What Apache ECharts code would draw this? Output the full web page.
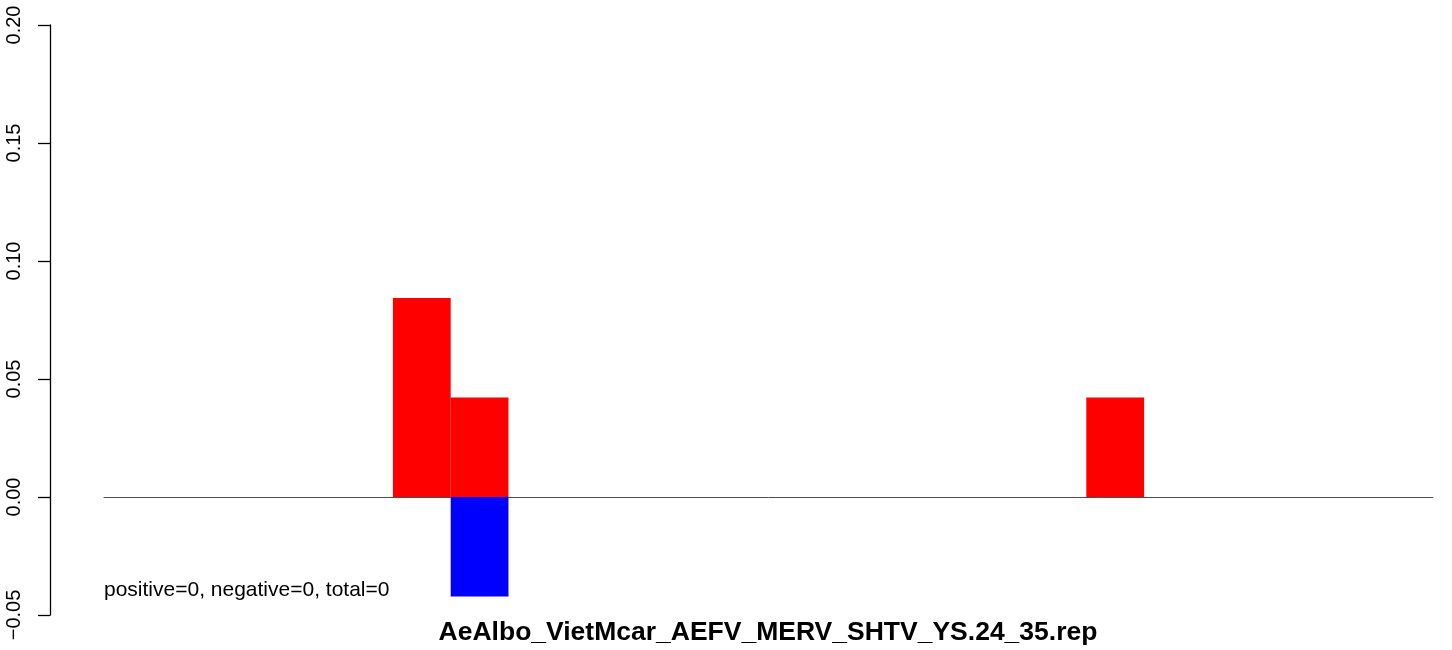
<!DOCTYPE html>
<html><head><meta charset="utf-8">
<script src="https://cdn.jsdelivr.net/npm/echarts@6/dist/echarts.min.js"></script>
<style>html,body{margin:0;padding:0;background:#fff}#c{width:1452px;height:650px}</style>
</head><body><div id="c"></div>
<script>
const categories = ['1','2','3','4','5','6','7','8','9','10','11','12','13','14','15','16','17','18','19','20','21','22','23'];
const positiveValues = [0,0,0,0,0,0.0843,0.0422,0,0,0,0,0,0,0,0,0,0,0.0422,0,0,0,0,0];
const negativeValues = [0,0,0,0,0,0,-0.0422,0,0,0,0,0,0,0,0,0,0,0,0,0,0,0,0];
const yTicks = [-0.05, 0, 0.05, 0.10, 0.15, 0.20];
const titleText = 'AeAlbo_VietMcar_AEFV_MERV_SHTV_YS.24_35.rep';
const noteText = 'positive=0, negative=0, total=0';

const chart = echarts.init(document.getElementById('c'), null, {renderer:'canvas'});
chart.setOption({
  animation:false,
  backgroundColor:'#fff',
  grid:{left:104, right:19, top:25, bottom:35, containLabel:false},
  xAxis:{type:'category', data:categories, boundaryGap:true,
    axisLine:{show:true, onZero:true, lineStyle:{color:'#4d4d4d', width:1}},
    axisTick:{show:false}, axisLabel:{show:false}, splitLine:{show:false}},
  yAxis:{type:'value', min:yTicks[0], max:yTicks[yTicks.length-1], interval:0.05, offset:54,
    axisLine:{show:true, lineStyle:{color:'#000', width:1.3}},
    axisTick:{show:true, length:12, inside:false, lineStyle:{color:'#000', width:1.3}},
    splitLine:{show:false},
    axisLabel:{rotate:90, margin:26, color:'#000', fontSize:20, fontFamily:'Liberation Sans, Arial, sans-serif',
      formatter:v=>{const s=(Math.round(v*100)/100).toFixed(2); return s.replace('-','\u2212');}}},
  series:[
    {type:'bar', data:positiveValues, barWidth:'100%', barGap:'-100%', itemStyle:{color:'#ff0000'}, silent:true},
    {type:'bar', data:negativeValues, barWidth:'100%', barGap:'-100%', itemStyle:{color:'#0000ff'}, silent:true}
  ],
  graphic:[
    {type:'text', left:104, top:580, style:{text:noteText, font:'21px "Liberation Sans", Arial, sans-serif', fill:'#000'}},
    {type:'text', x:768, y:633, style:{text:titleText, align:'center', verticalAlign:'middle', font:'bold 26.5px "Liberation Sans", Arial, sans-serif', fill:'#000'}}
  ]
});
</script></body></html>
